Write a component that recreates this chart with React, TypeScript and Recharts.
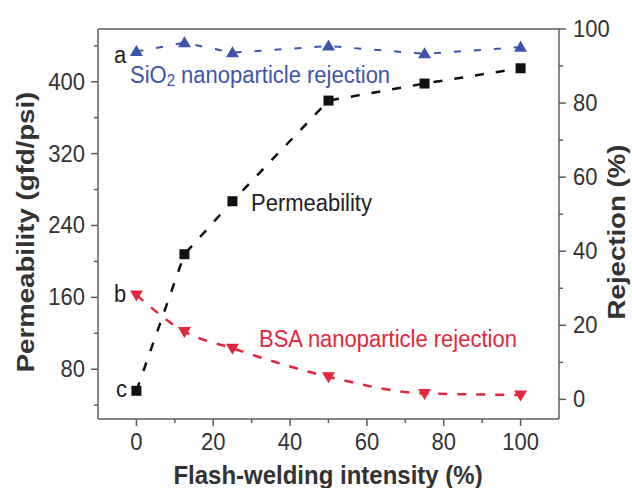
import { LineChart, Line, XAxis, YAxis, ReferenceLine } from "recharts";

// flash-welding intensity (%)
const intensity = [0, 12.5, 25, 50, 75, 100];
// permeability (gfd/psi), left axis
const permeability = [56, 208, 267, 379, 398, 415];
// rejection (%), right axis
const sio2Rejection = [93.9, 96.3, 93.6, 95.4, 93.3, 95.1];
const bsaRejection = [28.2, 18.3, 13.8, 6.1, 1.6, 1.2];

const xTicks = [0, 10, 20, 30, 40, 50, 60, 70, 80, 90, 100];
const xLabels = [0, 20, 40, 60, 80, 100];
const leftTicks = [40, 80, 120, 160, 200, 240, 280, 320, 360, 400, 440];
const leftLabels = [80, 160, 240, 320, 400];
const rightTicks = [0, 10, 20, 30, 40, 50, 60, 70, 80, 90, 100];
const rightLabels = [0, 20, 40, 60, 80, 100];

const data = intensity.map((x, i) => ({
  x,
  perm: permeability[i],
  sio2: sio2Rejection[i],
  bsa: bsaRejection[i],
}));

const FONT = '"Liberation Sans", Arial, Helvetica, sans-serif';
const AXIS = "#5c5c5c";
const TXT = "#333";
const BLUE = "#3d55a8";
const RED = "#e4263d";
const SY = 1.1; // the picture is a little stretched vertically

function BottomTick(props: any) {
  const { x, y, payload } = props;
  const major = xLabels.includes(payload.value);
  return (
    <g>
      <line x1={x} x2={x} y1={y} y2={y + (major ? 7 : 4)} stroke={AXIS} strokeWidth={1.5} />
      {major && (
        <text transform={`translate(${x},${y + 31}) scale(1,${SY})`} textAnchor="middle" fontSize={22} fontFamily={FONT} fill={TXT}>
          {payload.value}
        </text>
      )}
    </g>
  );
}

function LeftTick(props: any) {
  const { x, y, payload } = props;
  const major = leftLabels.includes(payload.value);
  return (
    <g>
      <line x1={x} x2={x - (major ? 7 : 4)} y1={y} y2={y} stroke={AXIS} strokeWidth={1.5} />
      {major && (
        <text transform={`translate(${x - 13},${y + 8}) scale(1,${SY})`} textAnchor="end" fontSize={22} fontFamily={FONT} fill={TXT}>
          {payload.value}
        </text>
      )}
    </g>
  );
}

function RightTick(props: any) {
  const { x, y, payload } = props;
  const major = rightLabels.includes(payload.value);
  return (
    <g>
      <line x1={x} x2={x + (major ? 7 : 4)} y1={y} y2={y} stroke={AXIS} strokeWidth={1.5} />
      {major && (
        <text transform={`translate(${x + 14},${y + 8}) scale(1,${SY})`} textAnchor="start" fontSize={22} fontFamily={FONT} fill={TXT}>
          {payload.value}
        </text>
      )}
    </g>
  );
}

function Square(props: any) {
  const { cx, cy } = props;
  if (cx == null || cy == null) return <g />;
  return <rect x={cx - 5} y={cy - 5} width={10} height={10} fill="#111" />;
}

function TriUp(props: any) {
  const { cx, cy } = props;
  if (cx == null || cy == null) return <g />;
  return <path d={`M${cx},${cy - 6.5} L${cx + 6.5},${cy + 4.5} L${cx - 6.5},${cy + 4.5} Z`} fill={BLUE} />;
}

function TriDown(props: any) {
  const { cx, cy } = props;
  if (cx == null || cy == null) return <g />;
  return <path d={`M${cx - 6.5},${cy - 4.5} L${cx + 6.5},${cy - 4.5} L${cx},${cy + 6.5} Z`} fill={RED} />;
}

function Note({ x, y, fill, children, size = 22 }: any) {
  return (
    <text transform={`translate(${x},${y}) scale(1,${SY})`} fontSize={size} fontFamily={FONT} fill={fill}>
      {children}
    </text>
  );
}

export default function App() {
  return (
    <div style={{ position: "absolute", left: 0, top: 0, width: 632, height: 488, background: "#fff" }}>
      <LineChart width={632} height={488} data={data} margin={{ top: 29, right: 0, bottom: 0, left: 0 }}>
        <XAxis
          dataKey="x"
          type="number"
          domain={[-10, 110]}
          ticks={xTicks}
          interval={0}
          allowDataOverflow
          height={69}
          tickSize={0}
          tickMargin={0}
          tickLine={false}
          tick={<BottomTick />}
          axisLine={{ stroke: AXIS, strokeWidth: 1.5 }}
        />
        <YAxis
          yAxisId="left"
          domain={[24.6, 458.7]}
          ticks={leftTicks}
          interval={0}
          allowDataOverflow
          width={98}
          tickSize={0}
          tickMargin={0}
          tickLine={false}
          tick={<LeftTick />}
          axisLine={{ stroke: AXIS, strokeWidth: 1.5 }}
        />
        <YAxis
          yAxisId="right"
          orientation="right"
          domain={[-5.3, 100]}
          ticks={rightTicks}
          interval={0}
          allowDataOverflow
          width={73}
          tickSize={0}
          tickMargin={0}
          tickLine={false}
          tick={<RightTick />}
          axisLine={{ stroke: AXIS, strokeWidth: 1.5 }}
        />
        <ReferenceLine yAxisId="right" y={100} stroke={AXIS} strokeWidth={1.5} />
        <Line
          yAxisId="right"
          dataKey="sio2"
          type="linear"
          stroke={BLUE}
          strokeWidth={2}
          strokeDasharray="7 13"
          dot={<TriUp />}
          activeDot={false}
          isAnimationActive={false}
        />
        <Line
          yAxisId="right"
          dataKey="bsa"
          type="monotone"
          stroke={RED}
          strokeWidth={2.5}
          strokeDasharray="9 10"
          dot={<TriDown />}
          activeDot={false}
          isAnimationActive={false}
        />
        <Line
          yAxisId="left"
          dataKey="perm"
          type="linear"
          stroke="#111"
          strokeWidth={2.5}
          strokeDasharray="9 12"
          dot={<Square />}
          activeDot={false}
          isAnimationActive={false}
        />
      </LineChart>
      <svg width={632} height={488} style={{ position: "absolute", left: 0, top: 0, pointerEvents: "none" }}>
        <Note x={114} y={63} fill="#222">a</Note>
        <Note x={130} y={83} fill={BLUE}>
          SiO<tspan fontSize={15} dy={3}>2</tspan>
          <tspan dy={-3}> nanoparticle rejection</tspan>
        </Note>
        <Note x={251} y={211} fill="#222">Permeability</Note>
        <Note x={114} y={302} fill="#222">b</Note>
        <Note x={259} y={347} fill={RED}>BSA nanoparticle rejection</Note>
        <Note x={116} y={397} fill="#222">c</Note>
        <text
          transform="translate(34,232) rotate(-90) scale(1.15,1)"
          textAnchor="middle"
          fontSize={24}
          fontWeight="bold"
          fontFamily={FONT}
          fill={TXT}
        >
          Permeability (gfd/psi)
        </text>
        <text
          transform="translate(625,232) rotate(-90) scale(1.15,1)"
          textAnchor="middle"
          fontSize={24}
          fontWeight="bold"
          fontFamily={FONT}
          fill={TXT}
        >
          Rejection (%)
        </text>
        <text
          transform={`translate(328,484) scale(1,${SY})`}
          textAnchor="middle"
          fontSize={24}
          fontWeight="bold"
          fontFamily={FONT}
          fill={TXT}
        >
          Flash-welding intensity (%)
        </text>
      </svg>
    </div>
  );
}
